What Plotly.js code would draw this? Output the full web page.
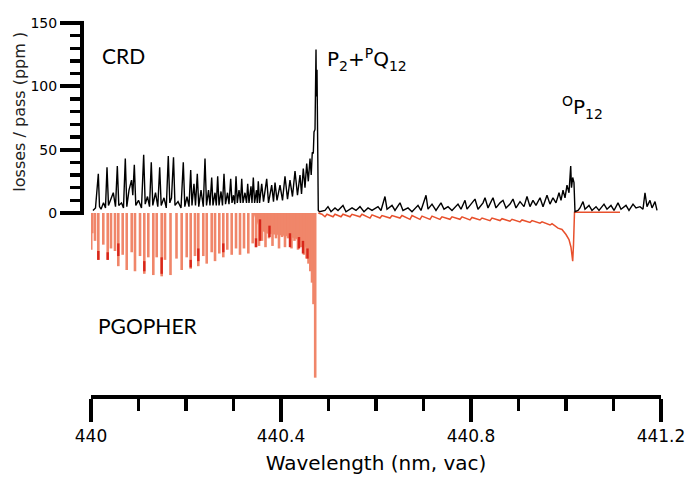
<!DOCTYPE html>
<html>
<head>
<meta charset="utf-8">
<script src="https://cdn.plot.ly/plotly-3.0.1.min.js"></script>
<style>html,body{margin:0;padding:0;background:#fff;}#chart{width:689px;height:477px;}</style>
</head>
<body>
<div id="chart"></div>
<script>
// ---- CRD measured spectrum (losses/pass, ppm) ----
const crdWl = [
440.0042,440.0095,440.0154,440.0179,440.0211,440.0263,440.0305,440.0337,440.0368,440.0421,
440.0469,440.0516,440.0554,440.0585,440.0642,440.0684,440.0722,440.0754,440.0800,440.0853,
440.0880,440.0912,440.0943,440.1000,440.1063,440.1109,440.1141,440.1189,440.1232,440.1269,
440.1301,440.1358,440.1406,440.1446,440.1478,440.1537,440.1585,440.1627,440.1659,440.1695,
440.1737,440.1768,440.1832,440.1895,440.1943,440.1975,440.2021,440.2063,440.2099,440.2126,
440.2168,440.2200,440.2238,440.2269,440.2316,440.2364,440.2400,440.2432,440.2474,440.2505,
440.2541,440.2568,440.2611,440.2638,440.2667,440.2695,440.2737,440.2768,440.2800,440.2832,
440.2874,440.2905,440.2941,440.2968,440.3000,440.3027,440.3053,440.3080,440.3116,440.3147,
440.3173,440.3200,440.3242,440.3274,440.3299,440.3326,440.3368,440.3389,440.3417,440.3444,
440.3484,440.3501,440.3522,440.3549,440.3594,440.3632,440.3699,440.3737,440.3804,440.3842,
440.3874,440.3916,440.3979,440.4032,440.4084,440.4137,440.4189,440.4242,440.4295,440.4347,
440.4400,440.4432,440.4469,440.4505,440.4541,440.4575,440.4611,440.4636,440.4659,440.4680,
440.4695,440.4716,440.4728,440.4737,440.4745,440.4758,440.4771,440.4785,440.4811,
440.4926,440.4989,440.5053,440.5137,440.5200,440.5305,440.5368,440.5495,440.5579,440.5663,
440.5747,440.5832,440.5916,440.6042,440.6105,440.6189,440.6232,440.6337,440.6400,440.6505,
440.6568,440.6674,440.6758,440.6884,440.6947,440.7053,440.7095,440.7179,440.7263,440.7368,
440.7432,440.7516,440.7600,440.7726,440.7789,440.7874,440.7916,440.8000,440.8084,440.8147,
440.8253,440.8295,440.8358,440.8463,440.8526,440.8611,440.8674,440.8737,440.8821,440.8884,
440.8947,440.9032,440.9116,440.9179,440.9242,440.9305,440.9368,440.9453,440.9516,440.9600,
440.9663,440.9726,440.9789,440.9853,440.9895,440.9937,440.9979,441.0021,441.0063,441.0099,
441.0116,441.0141,441.0168,441.0189,441.0253,441.0295,441.0358,441.0400,441.0484,441.0547,
441.0632,441.0695,441.0800,441.0863,441.0947,441.1011,441.1095,441.1158,441.1263,441.1326,
441.1411,441.1474,441.1558,441.1621,441.1663,441.1705,441.1768,441.1811,441.1874,441.1916
];
const crdLoss = [
2,4,31,5,3,8,4,36,6,12,
16,5,37,6,8,4,43,5,18,26,
14,38,6,10,4,46,7,13,5,40,
6,16,5,36,6,12,4,45,8,12,
44,6,9,4,40,5,13,5,34,6,
23,6,31,5,18,5,43,6,18,6,
28,6,16,6,29,6,17,6,31,7,
16,7,27,8,14,7,29,8,18,8,
27,8,16,8,23,8,21,8,28,8,
18,8,25,8,23,9,27,8,22,9,
24,10,22,10,29,11,26,13,33,14,
30,15,35,20,39,25,43,30,48,47,
64,66,95,129,92,113,60,2,1,
2,5,1,4,2,6,1,4,2,5,
1,4,2,5,2,13,3,6,2,8,
2,4,1,6,2,14,3,7,2,8,
3,5,2,7,3,10,3,7,11,3,
8,12,4,12,4,8,10,4,7,11,
4,9,5,13,5,10,6,12,5,14,
7,12,8,16,10,18,12,22,16,37,
20,28,24,1,2,4,9,3,6,2,
5,2,7,3,6,2,8,3,6,2,
7,4,5,3,16,5,10,4,9,2
];

// ---- PGOPHER simulation: line positions and (negative) intensities ----
const pgLineWl = [
440.0005,440.0027,440.0084,440.0154,440.0259,440.0352,440.0421,440.0505,440.0575,440.0667,
440.0752,440.0857,440.0926,440.1032,440.1122,440.1206,440.1312,440.1383,440.1488,440.1558,
440.1674,440.1800,440.1909,440.2015,440.2099,440.2189,440.2259,440.2364,440.2436,440.2541,
440.2611,440.2701,440.2785,440.2869,440.2962,440.3053,440.3137,440.3221,440.3312,440.3404,
440.3474,440.3537,440.3600,440.3674,440.3747,440.3821,440.3895,440.3958,440.4021,440.4084,
440.4147,440.4221,440.4284,440.4358,440.4421,440.4484,440.4537,440.4579,440.4617,440.4653,
440.4684,440.4720
];
const pgLineVal = [
-29,-16,-22,-37,-25,-37,-28,-30,-42,-33,
-45,-31,-46,-34,-48,-35,-49,-35,-50,-37,
-49,-36,-45,-35,-44,-34,-42,-34,-40,-31,
-38,-32,-35,-29,-33,-28,-33,-28,-32,-24,
-27,-26,-22,-27,-20,-26,-20,-28,-19,-27,
-20,-28,-22,-29,-27,-33,-36,-40,-46,-55,
-72,-130
];
// overlapping (darker) line segments: position, upper and lower intensity
const pgDarkWl = [440.0154,440.0352,440.0575,440.1122,440.1488,440.2099,440.2259,440.2785,440.3474,440.3558,440.3758,440.4189,440.4379,440.4463,440.4558];
const pgDarkTop = [-30,-31,-24,-38,-35,-37,-28,-24,-20,-5,-10,-16,-19,-22,-28];
const pgDarkBottom = [-37,-37,-34,-46,-48,-43,-38,-31,-27,-22,-19,-27,-28,-32,-36];
// blended (unresolved) lines near the band head
const pgBlendWl = [440.3420,440.3480,440.3560,440.3700,440.3900,440.4100,440.4300,440.4450,440.4540,440.4600,440.4650,440.4690,440.4715,440.4725];
const pgBlendVal = [0,-6,-13,-16,-17,-18,-20,-23,-28,-36,-44,-55,-68,0];
// PGOPHER trace beyond the band head
const pgTailWl = [
440.4785,440.4863,440.4926,440.4968,440.5095,440.5137,440.5263,440.5305,440.5453,440.5495,
440.5663,440.5705,440.5874,440.5916,440.6084,440.6126,440.6295,440.6337,440.6505,440.6547,
440.6716,440.6758,440.6926,440.6968,440.7137,440.7179,440.7347,440.7389,440.7558,440.7600,
440.7768,440.7811,440.7979,440.8021,440.8189,440.8232,440.8400,440.8442,440.8611,440.8653,
440.8821,440.8863,440.9032,440.9074,440.9242,440.9284,440.9453,440.9495,440.9663,440.9705,
440.9832,440.9916,441.0000,441.0063,441.0105,441.0141,441.0158,441.0179,441.0295,441.0505,
441.0716,441.0926,441.1137
];
const pgTailVal = [
0,-1,-3,-1,-3,-1,-3,-1,-3,-1,
-3,-1,-4,-1.5,-4,-2,-4,-2,-4,-2,
-5,-2,-5,-2.5,-5,-2.5,-5,-3,-5,-3,
-5,-3,-5.5,-3.5,-5.5,-4,-6,-4,-6,-4.5,
-6.5,-5,-7,-5.5,-7.5,-6,-8,-7,-9.5,-8.5,
-12,-13,-17,-21,-27,-38,-25,0.5,0.5,0.5,
0.5,0.5,0.5
];

// ---- axis ticks ----
const xTickVals = [440, 440.4, 440.8, 441.2];
const xTickText = ['440', '440.4', '440.8', '441.2'];
const xMinorVals = [440.1, 440.2, 440.3, 440.5, 440.6, 440.7, 440.9, 441.0, 441.1];
const yTickVals = [0, 50, 100, 150];
const yMinorVals = [10, 20, 30, 40, 60, 70, 80, 90, 110, 120, 130, 140];

// stick spectra built from the PGOPHER line lists
const stickX = [], stickY = [];
for (let i = 0; i < pgLineWl.length; i++) {
  stickX.push(pgLineWl[i], pgLineWl[i], null);
  stickY.push(0, pgLineVal[i], null);
}
const darkX = [], darkY = [];
for (let i = 0; i < pgDarkWl.length; i++) {
  darkX.push(pgDarkWl[i], pgDarkWl[i], null);
  darkY.push(pgDarkTop[i], pgDarkBottom[i], null);
}

const SALMON = '#f0866a';
const traces = [
  {x: pgBlendWl, y: pgBlendVal, type: 'scatter', mode: 'lines', fill: 'tozeroy',
   fillcolor: SALMON, line: {color: SALMON, width: 0.5}, hoverinfo: 'skip', showlegend: false},
  {x: stickX, y: stickY, type: 'scatter', mode: 'lines',
   line: {color: SALMON, width: 2.6}, hoverinfo: 'skip', showlegend: false},
  {x: darkX, y: darkY, type: 'scatter', mode: 'lines',
   line: {color: '#d8261a', width: 2.4}, hoverinfo: 'skip', showlegend: false},
  {x: pgTailWl, y: pgTailVal, type: 'scatter', mode: 'lines',
   line: {color: '#e8502c', width: 1.5}, hoverinfo: 'skip', showlegend: false},
  {x: crdWl, y: crdLoss, type: 'scatter', mode: 'lines',
   line: {color: '#000000', width: 1.4}, hoverinfo: 'skip', showlegend: false}
];

const AX = "DejaVu Sans, Verdana, sans-serif";
const LBL = "Lato, 'Open Sans', sans-serif";

const layout = {
  width: 689, height: 477,
  margin: {l: 91, r: 28, t: 15, b: 82},
  paper_bgcolor: '#fff', plot_bgcolor: '#fff',
  showlegend: false,
  xaxis: {
    range: [440, 441.2],
    tickvals: xTickVals, ticktext: xTickText,
    ticks: 'outside', ticklen: 23, tickwidth: 4, tickcolor: '#000',
    showline: true, linewidth: 4, linecolor: '#000',
    showgrid: false, zeroline: false,
    tickfont: {family: AX, size: 17, color: '#000'},
    minor: {tickvals: xMinorVals, ticks: 'outside', ticklen: 12, tickwidth: 3.5, tickcolor: '#000', showgrid: false},
    title: {text: 'Wavelength (nm, vac)', font: {family: AX, size: 20, color: '#000'}, standoff: 12}
  },
  yaxis: {
    range: [-143.68, 156.3],
    tickvals: yTickVals,
    ticks: 'outside', ticklen: 22, tickwidth: 4, tickcolor: '#000',
    showline: false, showgrid: false, zeroline: false,
    anchor: 'free', position: 0, shift: -9,
    tickfont: {family: AX, size: 14, color: '#000'},
    minor: {tickvals: yMinorVals, ticks: 'outside', ticklen: 12, tickwidth: 3.5, tickcolor: '#000', showgrid: false}
  },
  shapes: [
    {type: 'line', xref: 'paper', yref: 'y', x0: -9/570, x1: -9/570, y0: -1.6, y1: 151.6,
     line: {color: '#000', width: 4}}
  ],
  annotations: [
    {text: 'losses / pass (ppm )', xref: 'paper', yref: 'y', x: -71/570, y: 80,
     xanchor: 'center', yanchor: 'middle',
     textangle: -90, showarrow: false, font: {family: AX, size: 16, color: '#222'}},
    {text: 'CRD', xref: 'x', yref: 'y', x: 440.019, y: 124.5, xanchor: 'left', yanchor: 'middle',
     showarrow: false, font: {family: LBL, size: 21, color: '#000'}},
    {text: 'PGOPHER', xref: 'x', yref: 'y', x: 440.0105, y: -88.5, xanchor: 'left', yanchor: 'middle',
     showarrow: false, font: {family: LBL, size: 21, color: '#000'}},
    {text: 'P<sub>2</sub>+<sup>P</sup>Q<sub>12</sub>', xref: 'x', yref: 'y', x: 440.4926, y: 121,
     xanchor: 'left', yanchor: 'middle', showarrow: false, font: {family: AX, size: 20, color: '#000'}},
    {text: '<sup>O</sup>P<sub>12</sub>', xref: 'x', yref: 'y', x: 440.987, y: 83,
     xanchor: 'left', yanchor: 'middle', showarrow: false, font: {family: AX, size: 20, color: '#000'}}
  ]
};

Plotly.newPlot('chart', traces, layout, {staticPlot: true, displayModeBar: false});
</script>
</body>
</html>
